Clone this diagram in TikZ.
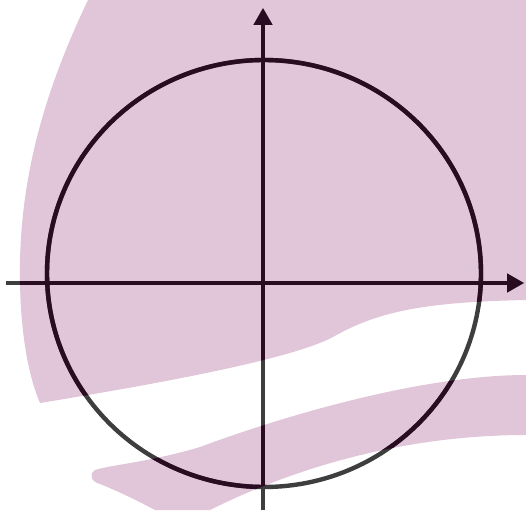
\documentclass[tikz,border=0pt]{standalone}
\usetikzlibrary{arrows.meta}
\definecolor{mauve}{RGB}{224,198,216}
\definecolor{ink}{RGB}{42,12,34}
\definecolor{inkgray}{RGB}{62,62,62}
\begin{document}
\begin{tikzpicture}[x=1pt, y=-1pt,
        wash/.style={fill=mauve, draw=none},
        axis/.style={-{Triangle[length=17pt,width=18pt]}, line width=4pt},
        ring/.style={line width=4.4pt}]
    \useasboundingbox (0,0) rectangle (526,510);

    % background swoosh
    \fill[wash, save path=\washpath]
        (88,0) -- (526,0) -- (526,300)
        .. controls (430,302) and (380,310) .. (333,337)
        .. controls (290,360) and (150,385) .. (40,403)
        .. controls (30,380) and (21,340) .. (20,283)
        .. controls (18,180) and (45,90) .. (88,0) -- cycle
        (526,375) .. controls (430,375) and (300,410) .. (200,447)
        .. controls (150,462) and (110,465) .. (95,470)
        .. controls (88,475) and (92,482) .. (100,484)
        .. controls (120,492) and (140,502) .. (155,510) -- (210,510)
        .. controls (290,470) and (400,435) .. (526,435) -- cycle;

    \coordinate (o) at (264,273.5);
    \coordinate (xl) at (6,283);
    \coordinate (xr) at (524,283);
    \coordinate (yb) at (263,510);
    \coordinate (yt) at (263,8);

    \draw[ring, draw=inkgray] (o) ellipse [x radius=217, y radius=213.5];
    \draw[axis, draw=inkgray, fill=inkgray] (xl) -- (xr);
    \draw[axis, draw=inkgray, fill=inkgray] (yb) -- (yt);

    % darker where the lines cross the wash
    \begin{scope}
        \clip[use path=\washpath];
        \draw[ring, draw=ink] (o) ellipse [x radius=217, y radius=213.5];
        \draw[axis, draw=ink, fill=ink] (xl) -- (xr);
        \draw[axis, draw=ink, fill=ink] (yb) -- (yt);
    \end{scope}
\end{tikzpicture}
\end{document}
